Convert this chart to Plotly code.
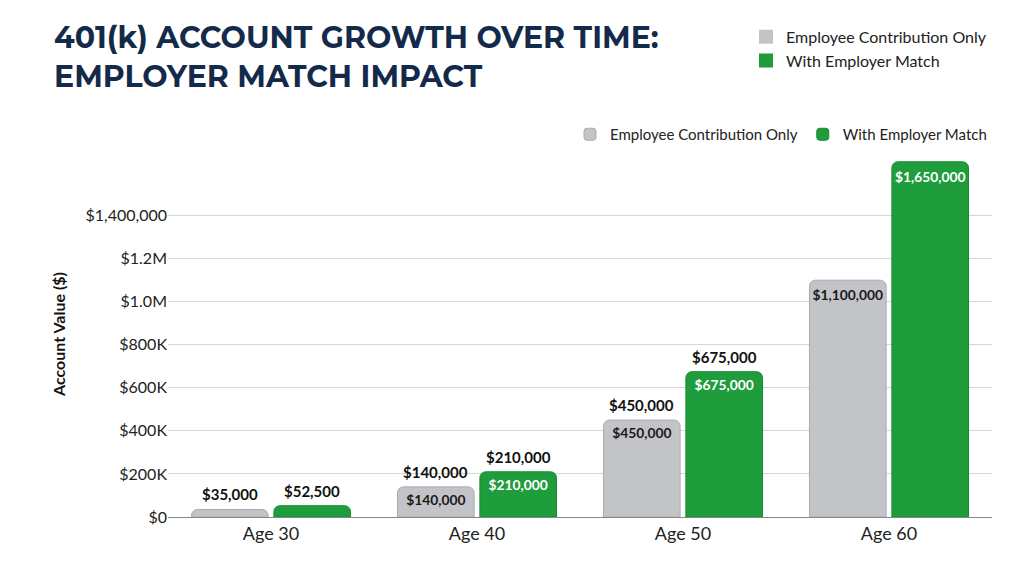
import plotly.graph_objects as go

ages = ["Age 30", "Age 40", "Age 50", "Age 60"]
employee_only = [35000, 140000, 450000, 1100000]
with_match = [52500, 210000, 675000, 1650000]


def money(v):
    return f"${v:,.0f}"


# which bars get a label inside the bar top / above the bar
inside = [False, True, True, True]
outside = [True, True, True, False]

GRAY = "#c3c4c7"
GREEN = "#1f9d3d"
NAVY = "#142a4a"

fig = go.Figure()
fig.add_trace(go.Bar(
    x=ages, y=employee_only, name="Employee Contribution Only",
    marker=dict(color=GRAY, line=dict(color="#a9abaf", width=1)),
    text=[money(v) if f else "" for v, f in zip(employee_only, inside)],
    textposition="inside", insidetextanchor="end", textangle=0,
    textfont=dict(color="#1a1a1a", size=14, family="Lato", weight="bold"),
))
fig.add_trace(go.Bar(
    x=ages, y=with_match, name="With Employer Match",
    marker=dict(color=GREEN, line=dict(color="#178a33", width=1)),
    text=[money(v) if f else "" for v, f in zip(with_match, inside)],
    textposition="inside", insidetextanchor="end", textangle=0,
    textfont=dict(color="white", size=14, family="Lato", weight="bold"),
))

# legend copy in the top right corner
for name, color in [("Employee Contribution Only", GRAY), ("With Employer Match", GREEN)]:
    fig.add_trace(go.Scatter(x=[None], y=[None], name=name, mode="markers",
                             marker=dict(color=color, symbol="square", size=14),
                             legend="legend2", hoverinfo="skip"))

for i, age in enumerate(ages):
    for off, vals in [(-0.2, employee_only), (0.2, with_match)]:
        if outside[i]:
            fig.add_annotation(x=i + off, y=vals[i], text=f"<b>{money(vals[i])}</b>",
                               showarrow=False, yanchor="bottom", yshift=4,
                               font=dict(size=15, color="#111", family="Lato"))

fig.update_layout(
    width=1024, height=572,
    paper_bgcolor="white", plot_bgcolor="white",
    margin=dict(l=160, r=40, t=140, b=63),
    barmode="group", bargap=0.2, bargroupgap=0.07, barcornerradius=6,
    uniformtext=dict(mode="show", minsize=10),
    title=dict(text="<b>401(k) ACCOUNT GROWTH OVER TIME:<br>EMPLOYER MATCH IMPACT</b>",
               x=0.045, xanchor="left", y=0.93, yanchor="top",
               font=dict(size=30, color=NAVY, family="Montserrat, Lato, sans-serif")),
    legend=dict(orientation="h", x=1, xanchor="right", y=1.0, yanchor="bottom",
                font=dict(size=15, color="#222", family="Lato")),
    legend2=dict(orientation="v", x=1, xanchor="right", y=1.2, yanchor="bottom",
                 font=dict(size=16, color="#222", family="Lato")),
    xaxis=dict(tickfont=dict(size=18, color="#222", family="Lato"),
               showline=True, linecolor="#888", ticks=""),
    yaxis=dict(range=[0, 1700000],
               tickvals=[0, 200000, 400000, 600000, 800000, 1000000, 1200000, 1400000],
               ticktext=["$0", "$200K", "$400K", "$600K", "$800K", "$1.0M", "$1.2M", "$1,400,000"],
               tickfont=dict(size=16, color="#222", family="Lato"),
               gridcolor="#d6d6d6",
               title=dict(text="<b>Account Value ($)</b>",
                          font=dict(size=16, color="#111", family="Lato"))),
)

fig.write_html("out.html")
